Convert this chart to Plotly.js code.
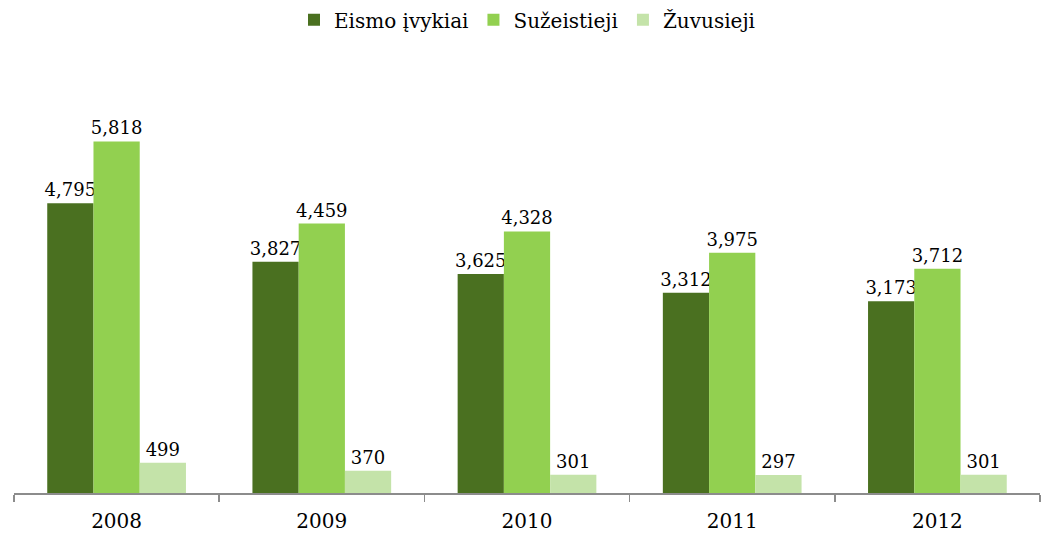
<!DOCTYPE html>
<html><head><meta charset="utf-8">
<script src="https://cdn.plot.ly/plotly-3.0.1.min.js"></script>
<style>body{margin:0;background:#fff}#chart{width:1050px;height:536px}</style>
</head><body><div id="chart"></div>
<script>
const years = ['2008','2009','2010','2011','2012'];
const eismoIvykiai = [4795, 3827, 3625, 3312, 3173];
const suzeistieji = [5818, 4459, 4328, 3975, 3712];
const zuvusieji = [499, 370, 301, 297, 301];
const seriesNames = ['Eismo įvykiai', 'Sužeistieji', 'Žuvusieji'];
const colors = ['#4A7020', '#92D050', '#C4E3A9'];

const font = 'DejaVu Serif, Liberation Serif, serif';
const mk = (vals, i) => ({
  type: 'bar', x: years, y: vals, name: seriesNames[i],
  marker: {color: colors[i]},
  texttemplate: '%{y:,}', textposition: 'outside', cliponaxis: false, constraintext: 'none',
  textfont: {family: font, size: 18, color: '#000'},
  hoverinfo: 'skip'
});
const data = [mk(eismoIvykiai,0), mk(suzeistieji,1), mk(zuvusieji,2)];
const layout = {
  width: 1050, height: 536,
  margin: {l: 14, r: 10, t: 70, b: 43},
  barmode: 'group', bargap: 0.324, bargroupgap: 0,
  paper_bgcolor: '#fff', plot_bgcolor: '#fff',
  font: {family: font, color: '#000'},
  showlegend: true,
  legend: {orientation: 'h', x: 0.5, xanchor: 'center', yref: 'container', y: 0.963, yanchor: 'middle',
           font: {family: font, size: 20, color: '#000'}, itemclick: false, tracegroupgap: 0},
  xaxis: {type: 'category', showline: true, linecolor: '#8C8C8C', linewidth: 1.5,
          ticks: 'outside', tickson: 'boundaries', ticklen: 7, tickcolor: '#8C8C8C', tickwidth: 1.5,
          ticklabelstandoff: 9,
          tickfont: {family: font, size: 20, color: '#000'}, showgrid: false, zeroline: false},
  yaxis: {range: [0, 7000], visible: false, showgrid: false, zeroline: false, fixedrange: true}
};
Plotly.newPlot('chart', data, layout, {displayModeBar: false, staticPlot: true});
</script></body></html>
